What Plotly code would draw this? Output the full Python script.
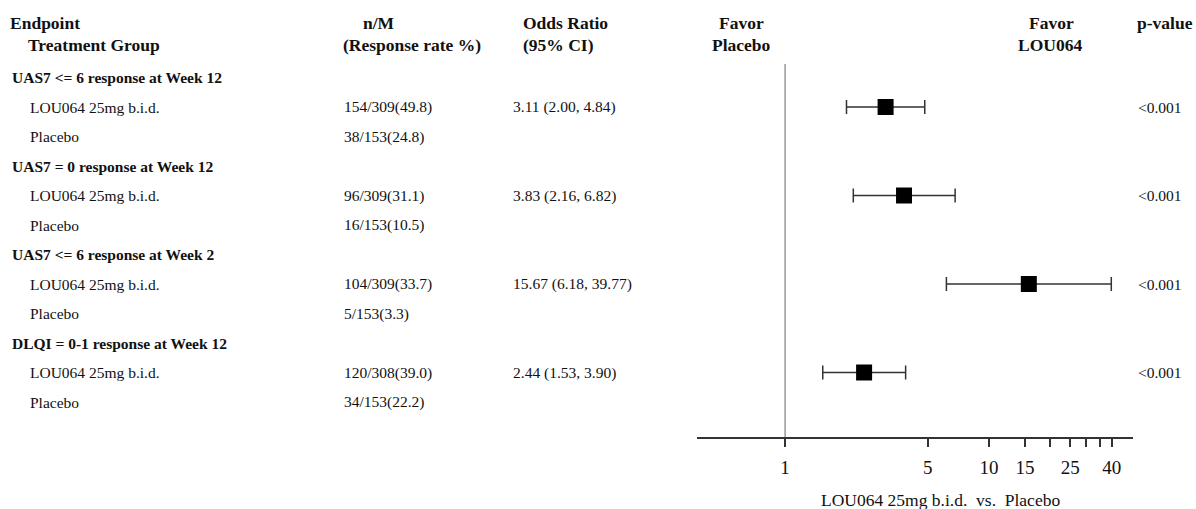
import plotly.graph_objects as go

W, H = 1196, 509

# ---------------- data ----------------
sections = ["UAS7 &lt;= 6 response at Week 12", "UAS7 = 0 response at Week 12",
            "UAS7 &lt;= 6 response at Week 2", "DLQI = 0-1 response at Week 12"]
groups = ["LOU064 25mg b.i.d.", "Placebo"]
nm_active = ["154/309(49.8)", "96/309(31.1)", "104/309(33.7)", "120/308(39.0)"]
nm_placebo = ["38/153(24.8)", "16/153(10.5)", "5/153(3.3)", "34/153(22.2)"]
or_est = [3.11, 3.83, 15.67, 2.44]
or_lo = [2.00, 2.16, 6.18, 1.53]
or_hi = [4.84, 6.82, 39.77, 3.90]
pvals = ["&lt;0.001", "&lt;0.001", "&lt;0.001", "&lt;0.001"]
tick_vals = [1, 5, 10, 15, 20, 25, 30, 35, 40]
tick_text = ["1", "5", "10", "15", "", "25", "", "", "40"]

# ---------------- layout helpers ----------------
ROW0, STEP = 77.5, 29.5  # pixel of row 0 and row spacing
def px2row(p):
    return (p - ROW0) / STEP
def px2py(p):
    return 1 - p / H
def px2px(p):
    return p / W

SERIF = "Liberation Serif"
TXT = "#111111"

fig = go.Figure()

# rows: for each endpoint, section row, active row, placebo row
active_rows = [3 * i + 1 for i in range(len(sections))]

fig.add_trace(go.Scatter(
    x=or_est, y=active_rows, mode="markers",
    marker=dict(symbol="square", size=16, color="black"),
    error_x=dict(type="data", symmetric=False,
                 array=[h - e for h, e in zip(or_hi, or_est)],
                 arrayminus=[e - l for e, l in zip(or_est, or_lo)],
                 color="#333333", thickness=1.5, width=7),
    showlegend=False, hoverinfo="skip"))

annotations = []
def txt(x, y, s, size=15, bold=False, anchor="left", yref="y"):
    if anchor == "left":
        x -= 2
    annotations.append(dict(
        x=px2px(x), xref="paper", y=y, yref=yref, text=("<b>%s</b>" % s) if bold else s,
        showarrow=False, xanchor=anchor, yanchor="middle",
        font=dict(family=SERIF, size=size, color=TXT)))

# header
HS = 17.5
RS = 15.5
hy1, hy2 = px2py(23), px2py(45)
txt(10, hy1, "Endpoint", HS, True, yref="paper")
txt(28, hy2, "Treatment Group", HS, True, yref="paper")
txt(363, hy1, "n/M", HS, True, yref="paper")
txt(343, hy2, "(Response rate %)", HS, True, yref="paper")
txt(523, hy1, "Odds Ratio", HS, True, yref="paper")
txt(523, hy2, "(95% CI)", HS, True, yref="paper")
txt(741, hy1, "Favor", HS, True, "center", yref="paper")
txt(741, hy2, "Placebo", HS, True, "center", yref="paper")
txt(1051, hy1, "Favor", HS, True, "center", yref="paper")
txt(1050, hy2, "LOU064", HS, True, "center", yref="paper")
txt(1137, hy1, "p-value", HS, True, yref="paper")

for i, sec in enumerate(sections):
    r = 3 * i
    txt(12, r, sec, 15.5, True)
    txt(30, r + 1, groups[0], RS)
    txt(30, r + 2, groups[1], RS)
    txt(344, r + 1, nm_active[i], RS)
    txt(344, r + 2, nm_placebo[i], RS)
    txt(513, r + 1, "%.2f (%.2f, %.2f)" % (or_est[i], or_lo[i], or_hi[i]), RS)
    txt(1138, r + 1, pvals[i], RS)

# axis title
annotations.append(dict(x=px2px(940), xref="paper", y=px2py(500), yref="paper",
                        text="LOU064 25mg b.i.d.  vs.  Placebo", showarrow=False,
                        xanchor="center", yanchor="middle",
                        font=dict(family=SERIF, size=17.5, color=TXT)))

AX_Y = 438
fig.update_layout(
    width=W, height=H, margin=dict(l=0, r=0, t=0, b=0),
    paper_bgcolor="white", plot_bgcolor="white",
    annotations=annotations,
    xaxis=dict(type="log", domain=[px2px(697), px2px(1133)],
               range=[-0.432, 1.706], anchor="free", position=px2py(AX_Y),
               showline=True, linecolor="#333333", linewidth=1.5,
               ticks="outside", ticklen=8, tickwidth=1.5, tickcolor="#333333",
               tickvals=tick_vals, ticktext=tick_text, ticklabelstandoff=4,
               tickfont=dict(family=SERIF, size=19, color=TXT),
               showgrid=False, zeroline=False),
    yaxis=dict(domain=[0, 1], range=[px2row(H), px2row(0)], visible=False,
               showgrid=False, zeroline=False),
    shapes=[dict(type="line", xref="x", yref="paper", x0=1, x1=1,
                 y0=px2py(AX_Y), y1=px2py(64),
                 line=dict(color="#999999", width=1.5), layer="below")],
)

fig.write_html("out.html")
